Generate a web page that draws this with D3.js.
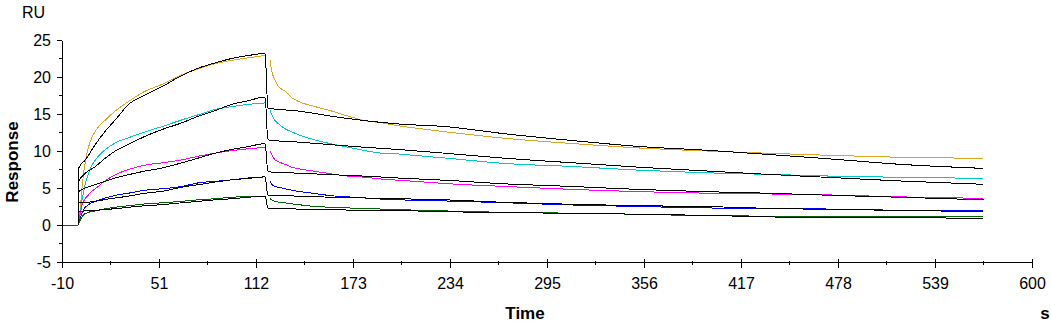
<!DOCTYPE html>
<html>
<head>
<meta charset="utf-8">
<script src="https://cdn.jsdelivr.net/npm/d3@7"></script>
<style>
html,body{margin:0;padding:0;background:#fff;}
svg{display:block;}
text{font-family:"Liberation Sans",Arial,sans-serif;fill:#000;}
</style>
</head>
<body>
<svg id="chart" width="1051" height="324"></svg>
<script>
// ---- Data ----
const xTicks = [-10, 51, 112, 173, 234, 295, 356, 417, 478, 539, 600];
const yTicks = [-5, 0, 5, 10, 15, 20, 25];
const colors = ["#DAA520", "#00C8C8", "#FF00FF", "#0000FF", "#006400"];

// measured curves, association phase
const tAssoc = [-10, 0, 1.5, 2.6, 3.6, 4.7, 6.8, 7.8, 11, 17.3, 23.5, 31.9, 42.4, 52.9, 65.3, 75.8, 86.2, 96.7, 107.2, 117.7];
const orangeAssoc  = [0, 0, 2.3, 5.0, 7.0, 8.6, 10.6, 11.3, 12.7, 14.2, 15.4, 16.7, 18.1, 19.0, 20.3, 21.1, 21.8, 22.25, 22.6, 22.9];
const cyanAssoc    = [0, 0, 1.8, 3.4, 4.5, 5.6, 7.0, 7.6, 8.8, 10.2, 11.1, 11.8, 12.6, 13.3, 14.2, 14.9, 15.6, 16.0, 16.3, 16.5];
const magentaAssoc = [0, 0, 1.5, 2.7, 3.2, 3.6, 4.1, 4.4, 4.9, 6.0, 6.8, 7.5, 8.1, 8.4, 8.8, 9.3, 9.7, 10.05, 10.3, 10.5];
const blueAssoc    = [0, 0, 0.95, 1.6, 2.1, 2.4, 2.75, 2.9, 3.2, 3.65, 4.0, 4.3, 4.7, 4.9, 5.2, 5.7, 5.9, 6.1, 6.35, 6.5];
const greenAssoc   = [0, 0, 0.7, 1.1, 1.4, 1.55, 1.7, 1.8, 1.9, 2.2, 2.4, 2.6, 2.85, 3.0, 3.2, 3.4, 3.55, 3.75, 3.85, 3.9];

// measured curves, dissociation phase
const tDiss = [120.8, 121.9, 124, 126.1, 130.3, 134.5, 138.7, 149.1, 159.6, 170.1, 180.6, 191.1, 201.6, 212, 230.9, 269.6, 311.6, 353.5, 395.4, 433.2, 475, 517, 569.5];
const orangeDiss  = [22.3, 20.8, 19.6, 18.7, 18.1, 17.2, 16.7, 16.0, 15.4, 14.7, 14.1, 13.8, 13.4, 13.1, 12.6, 11.7, 11.0, 10.4, 10.0, 9.7, 9.4, 9.15, 9.0];
const cyanDiss    = [15.5, 14.9, 14.1, 13.7, 13.0, 12.6, 12.2, 11.5, 10.95, 10.5, 10.05, 9.7, 9.6, 9.4, 9.05, 8.3, 7.9, 7.4, 7.05, 6.85, 6.6, 6.45, 6.3];
const magentaDiss = [10.05, 9.5, 8.8, 8.55, 8.2, 7.8, 7.6, 7.25, 6.9, 6.6, 6.45, 6.2, 6.05, 5.9, 5.6, 5.2, 4.8, 4.5, 4.3, 4.2, 4.05, 3.8, 3.6];
const blueDiss    = [6.0, 5.5, 5.2, 5.1, 4.9, 4.7, 4.55, 4.25, 3.95, 3.8, 3.65, 3.5, 3.4, 3.35, 3.25, 3.0, 2.7, 2.5, 2.3, 2.25, 2.15, 2.0, 1.98];
const greenDiss   = [3.55, 3.4, 3.2, 3.1, 3.0, 2.85, 2.75, 2.5, 2.4, 2.3, 2.25, 2.15, 2.1, 2.0, 1.9, 1.7, 1.6, 1.45, 1.25, 1.2, 1.1, 1.1, 1.15];

// fitted curves (black)
const tFit = [0.4, 0.5, 4.7, 11, 17.3, 23.5, 31.9, 42.4, 52.9, 65.3, 75.8, 86.2, 96.7, 107.2, 117.7,
              119.5, 138.7, 159.6, 180.6, 201.6, 230.9, 269.6, 311.6, 353.5, 395.4, 433.2, 475, 517, 569.5];
const fit1 = [0, 7.7, 8.8, 10.9, 12.7, 14.2, 16.3, 17.6, 18.7, 20.2, 21.2, 21.9, 22.5, 22.9, 23.2,
              15.8, 15.4, 14.7, 14.1, 13.65, 13.3, 12.3, 11.4, 10.6, 10.1, 9.55, 8.9, 8.2, 7.65];
const fit2 = [0, 5.9, 7.0, 7.9, 9.05, 10.0, 10.9, 12.0, 12.9, 13.8, 14.7, 15.45, 16.3, 16.8, 17.3,
              11.5, 11.2, 10.85, 10.5, 10.2, 9.7, 9.0, 8.4, 7.8, 7.3, 6.85, 6.4, 5.95, 5.5];
const fit3 = [0, 4.5, 5.0, 5.45, 5.9, 6.35, 6.8, 7.3, 7.7, 8.4, 9.05, 9.7, 10.2, 10.6, 11.0,
              7.2, 7.0, 6.8, 6.6, 6.35, 6.05, 5.55, 5.2, 4.8, 4.5, 4.3, 4.0, 3.75, 3.4];
const fit4 = [0, 3.0, 3.05, 3.2, 3.45, 3.65, 3.9, 4.3, 4.55, 5.1, 5.45, 5.8, 6.1, 6.3, 6.5,
              4.0, 3.9, 3.75, 3.65, 3.55, 3.4, 3.05, 2.8, 2.6, 2.5, 2.25, 2.1, 1.98, 1.8];
const fit5 = [0, 1.85, 1.9, 1.98, 2.1, 2.2, 2.4, 2.6, 2.75, 3.0, 3.2, 3.4, 3.55, 3.75, 3.9,
              2.3, 2.15, 2.05, 2.0, 1.95, 1.8, 1.65, 1.6, 1.45, 1.3, 1.1, 1.0, 1.0, 0.9];

const assocSeries = [orangeAssoc, cyanAssoc, magentaAssoc, blueAssoc, greenAssoc];
const dissSeries  = [orangeDiss, cyanDiss, magentaDiss, blueDiss, greenDiss];
const fitSeries   = [fit1, fit2, fit3, fit4, fit5];

// ---- Layout ----
const svg = d3.select("#chart");
const x = d3.scaleLinear().domain([-10, 600]).range([62, 1032]);
const y = d3.scaleLinear().domain([-5, 25]).range([262, 40]);

const line = d3.line().x(d => x(d[0])).y(d => y(d[1])).curve(d3.curveMonotoneX);
const pairs = (ts, vs) => ts.map((t, i) => [t, vs[i]]);

// data curves
const gData = svg.append("g").attr("fill", "none").attr("stroke-width", 1);
assocSeries.forEach((vs, i) => {
  gData.append("path").attr("d", line(pairs(tAssoc, vs))).attr("stroke", colors[i]);
});
dissSeries.forEach((vs, i) => {
  gData.append("path").attr("d", line(pairs(tDiss, vs))).attr("stroke", colors[i]);
});
// fits
const gFit = svg.append("g").attr("fill", "none").attr("stroke", "#000").attr("stroke-width", 1);
fitSeries.forEach(vs => {
  gFit.append("path").attr("d", line(pairs(tFit, vs)));
});

// ---- Axes ----
const xMinor = xTicks.slice(0, -1).map((t, i) => (t + xTicks[i + 1]) / 2);
const yMinor = yTicks.slice(0, -1).map((t, i) => (t + yTicks[i + 1]) / 2);

const gx = svg.append("g").attr("transform", `translate(0,${y(-5)})`);
gx.call(d3.axisBottom(x).tickValues(xTicks).tickSize(6).tickSizeOuter(0).tickFormat(d => String(d)).tickPadding(10));
gx.selectAll(".tick line").attr("y1", -3);
gx.selectAll(".tick text").attr("font-size", 16).style("font-family", '"Liberation Sans",Arial,sans-serif');
gx.select(".domain").attr("stroke", "#000");
gx.selectAll(".minor").data(xMinor).enter().append("line")
  .attr("x1", d => x(d)).attr("x2", d => x(d)).attr("y1", -1).attr("y2", 3).attr("stroke", "#000");

const gy = svg.append("g").attr("transform", `translate(${x(-10)},0)`);
gy.call(d3.axisLeft(y).tickValues(yTicks).tickSize(5).tickSizeOuter(0).tickFormat(d => String(d)).tickPadding(6));
gy.selectAll(".tick text").attr("font-size", 16).style("font-family", '"Liberation Sans",Arial,sans-serif');
gy.selectAll(".minor").data(yMinor).enter().append("line")
  .attr("x1", -3).attr("x2", 0).attr("y1", d => y(d)).attr("y2", d => y(d)).attr("stroke", "#000");

svg.selectAll("path, line").attr("shape-rendering", "crispEdges");

// ---- Titles ----
svg.append("text").attr("x", 22).attr("y", 18).attr("font-size", 16).text("RU");
svg.append("text").attr("transform", "translate(18,162) rotate(-90)")
  .attr("text-anchor", "middle").attr("font-size", 17).attr("font-weight", "bold").text("Response");
svg.append("text").attr("x", 525).attr("y", 319).attr("text-anchor", "middle")
  .attr("font-size", 17).attr("font-weight", "bold").text("Time");
svg.append("text").attr("x", 1045).attr("y", 319).attr("text-anchor", "middle")
  .attr("font-size", 17).attr("font-weight", "bold").text("s");
</script>
</body>
</html>
